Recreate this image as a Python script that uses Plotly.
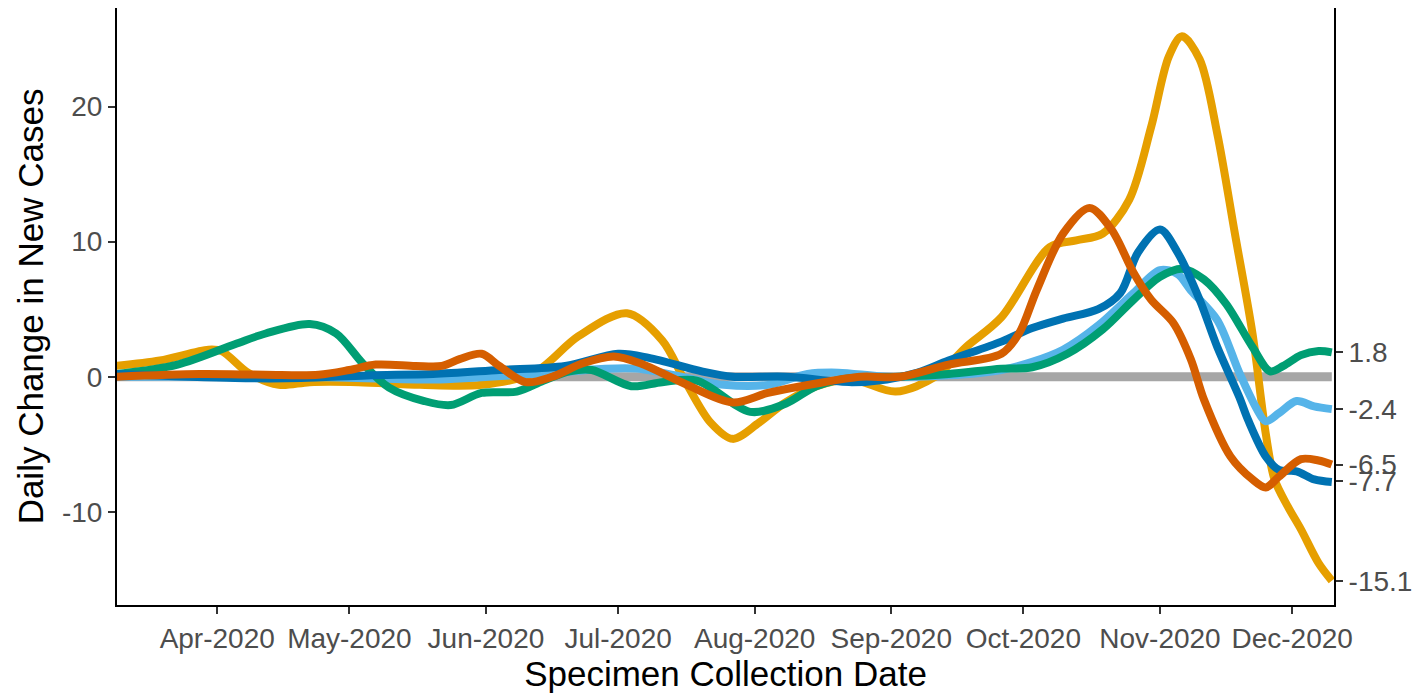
import plotly.graph_objects as go

# ---------------- data ----------------
orange_dates = ["2020-03-09","2020-03-19","2020-03-30","2020-04-02","2020-04-08","2020-04-15","2020-04-22",
                "2020-05-03","2020-05-17","2020-05-31","2020-06-12","2020-06-22","2020-07-03","2020-07-11",
                "2020-07-16","2020-07-22","2020-07-27","2020-08-02","2020-08-08","2020-08-15","2020-08-23",
                "2020-09-02","2020-09-11","2020-09-18","2020-09-26","2020-10-07","2020-10-13","2020-10-19",
                "2020-10-25","2020-10-30","2020-11-03","2020-11-06","2020-11-10","2020-11-14","2020-11-18",
                "2020-11-22","2020-11-25","2020-11-27","2020-11-30","2020-12-03","2020-12-07","2020-12-10"]
orange_vals = [0.8, 1.2, 2.0, 1.9, 0.3, -0.6, -0.4,
               -0.4, -0.6, -0.6, 0.3, 3.0, 4.7, 2.7,
               -0.2, -3.4, -4.6, -3.4, -1.9, -0.7, -0.2,
               -1.1, 0.0, 2.2, 4.4, 9.6, 10.1, 10.6,
               13.1, 18.5, 23.7, 25.2, 23.5, 18.0, 10.6,
               3.2, -4.2, -7.6, -9.6, -11.3, -13.8, -15.1]

lightblue_dates = ["2020-03-09","2020-04-20","2020-05-20","2020-06-16","2020-07-05","2020-07-25","2020-08-04",
                   "2020-08-13","2020-08-20","2020-08-31","2020-09-14","2020-09-26","2020-10-03","2020-10-10",
                   "2020-10-18","2020-10-26","2020-11-01","2020-11-05","2020-11-08","2020-11-14","2020-11-19",
                   "2020-11-23","2020-11-25","2020-11-28","2020-12-02","2020-12-06","2020-12-10"]
lightblue_vals = [0.0, 0.0, -0.2, 0.3, 0.6, -0.6, -0.6,
                  0.2, 0.3, 0.0, 0.1, 0.5, 1.1, 2.0,
                  3.8, 6.2, 7.9, 7.6, 6.4, 4.2, 0.3,
                  -2.4, -3.3, -2.7, -1.8, -2.2, -2.4]

green_dates = ["2020-03-09","2020-03-23","2020-04-05","2020-04-12","2020-04-22","2020-04-28","2020-05-04",
               "2020-05-10","2020-05-18","2020-05-24","2020-05-31","2020-06-08","2020-06-14","2020-06-20",
               "2020-06-25","2020-07-04","2020-07-11","2020-07-19","2020-07-31","2020-08-08","2020-08-15",
               "2020-08-23","2020-09-03","2020-09-14","2020-09-26","2020-10-03","2020-10-11","2020-10-19",
               "2020-10-26","2020-11-01","2020-11-06","2020-11-11","2020-11-16","2020-11-22","2020-11-26",
               "2020-11-29","2020-12-03","2020-12-07","2020-12-10"]
green_vals = [0.2, 0.9, 2.4, 3.2, 3.9, 3.2, 1.0,
              -0.8, -1.8, -2.1, -1.2, -1.1, -0.3, 0.4,
              0.5, -0.7, -0.4, -0.3, -2.6, -2.0, -0.7,
              -0.1, 0.0, 0.2, 0.6, 0.7, 1.7, 3.5,
              5.7, 7.4, 8.0, 7.2, 5.4, 2.2, 0.4,
              0.8, 1.6, 1.9, 1.8]

blue_dates = ["2020-03-09","2020-04-05","2020-04-20","2020-05-05","2020-05-20","2020-06-04","2020-06-19",
              "2020-07-01","2020-07-08","2020-07-20","2020-07-27","2020-08-08","2020-08-23","2020-08-31",
              "2020-09-07","2020-09-14","2020-09-26","2020-10-03","2020-10-10","2020-10-18","2020-10-23",
              "2020-10-27","2020-11-01","2020-11-05","2020-11-10","2020-11-14","2020-11-19","2020-11-21",
              "2020-11-25","2020-11-28","2020-12-02","2020-12-06","2020-12-10"]
blue_vals = [0.2, -0.1, -0.1, 0.1, 0.2, 0.5, 0.8,
             1.7, 1.4, 0.4, 0.0, 0.0, -0.4, -0.2,
             0.3, 1.2, 2.6, 3.6, 4.3, 5.0, 6.2,
             9.2, 10.9, 9.2, 5.7, 2.2, -1.5, -3.2,
             -5.9, -6.9, -7.0, -7.6, -7.8]

red_dates = ["2020-03-09","2020-03-28","2020-04-12","2020-04-24","2020-05-01","2020-05-07","2020-05-16",
             "2020-05-22","2020-05-26","2020-05-31","2020-06-04","2020-06-10","2020-06-16","2020-06-23",
             "2020-06-30","2020-07-06","2020-07-16","2020-07-27","2020-08-04","2020-08-15","2020-08-25",
             "2020-09-03","2020-09-14","2020-09-26","2020-09-30","2020-10-04","2020-10-10","2020-10-16",
             "2020-10-21","2020-10-26","2020-10-30","2020-11-04","2020-11-08","2020-11-11","2020-11-17",
             "2020-11-22","2020-11-25","2020-11-28","2020-12-03","2020-12-07","2020-12-10"]
red_vals = [0.0, 0.2, 0.15, 0.15, 0.5, 0.9, 0.8,
            0.8, 1.3, 1.7, 0.8, -0.4, 0.0, 1.0,
            1.5, 1.0, -0.5, -1.9, -1.2, -0.5, 0.0,
            0.0, 0.9, 1.7, 3.2, 6.4, 10.6, 12.5,
            10.9, 7.7, 5.7, 4.0, 1.3, -1.7, -5.9,
            -7.6, -8.2, -7.4, -6.1, -6.2, -6.5]

zero_dates = ["2020-03-09", "2020-12-10"]
zero_vals = [0, 0]

y_ticks = [-10, 0, 10, 20]
y_tick_labels = ["-10", "0", "10", "20"]
end_ticks = [1.8, -2.4, -6.5, -7.7, -15.1]
end_labels = ["1.8", "-2.4", "-6.5", "-7.7", "-15.1"]

x_ticks = ["2020-04-01","2020-05-01","2020-06-01","2020-07-01","2020-08-01",
           "2020-09-01","2020-10-01","2020-11-01","2020-12-01"]

# ---------------- figure ----------------
FONT = "Liberation Sans, Arial, sans-serif"
LW = 8
TICKF = dict(size=28, color="#4D4D4D", family=FONT)
TITLEF = dict(size=35, color="black", family=FONT)

fig = go.Figure()
fig.add_trace(go.Scatter(x=zero_dates, y=zero_vals, mode="lines",
                         line=dict(color="#A6A6A6", width=9), hoverinfo="skip"))

series = [
    (orange_dates, orange_vals, "#E69F00"),
    (lightblue_dates, lightblue_vals, "#56B4E9"),
    (green_dates, green_vals, "#009E73"),
    (blue_dates, blue_vals, "#0072B2"),
    (red_dates, red_vals, "#D55E00"),
]
for d, v, c in series:
    fig.add_trace(go.Scatter(x=d, y=v, mode="lines",
                             line=dict(color=c, width=LW, shape="spline", smoothing=0.9)))

# invisible trace to activate right axis
fig.add_trace(go.Scatter(x=zero_dates, y=zero_vals, yaxis="y2", mode="lines",
                         line=dict(width=0), opacity=0, hoverinfo="skip"))

YR = [-16.9, 27.3]
XR = ["2020-03-09 06:00", "2020-12-10 12:00"]

# page body has an 8px margin, so the figure is sized to fit inside the window
fig.update_layout(
    width=1415, height=689,
    margin=dict(l=109, r=89, t=0, b=92),
    paper_bgcolor="white", plot_bgcolor="white",
    showlegend=False,
    font=dict(family=FONT),
    xaxis=dict(
        range=XR, type="date", automargin=False,
        tickvals=x_ticks, tickformat="%b-%Y",
        ticks="outside", ticklen=7, tickwidth=2, tickcolor="#333333",
        tickfont=TICKF,
        showline=True, linecolor="black", linewidth=2,
        showgrid=False, zeroline=False,
        title=dict(text="Specimen Collection Date", font=TITLEF, standoff=1),
    ),
    yaxis=dict(
        range=YR, tickvals=y_ticks, ticktext=y_tick_labels, automargin=False,
        ticks="outside", ticklen=7, tickwidth=2, tickcolor="#333333",
        tickfont=TICKF,
        showline=True, linecolor="black", linewidth=2,
        showgrid=False, zeroline=False,
        title=dict(text="Daily Change in New Cases", font=TITLEF, standoff=8),
    ),
    yaxis2=dict(
        range=YR, overlaying="y", side="right", automargin=False,
        tickvals=end_ticks, ticktext=end_labels,
        ticks="outside", ticklen=7, tickwidth=2, tickcolor="#333333",
        tickfont=TICKF,
        showline=True, linecolor="black", linewidth=2,
        showgrid=False, zeroline=False,
    ),
)

fig.write_html("out.html")
